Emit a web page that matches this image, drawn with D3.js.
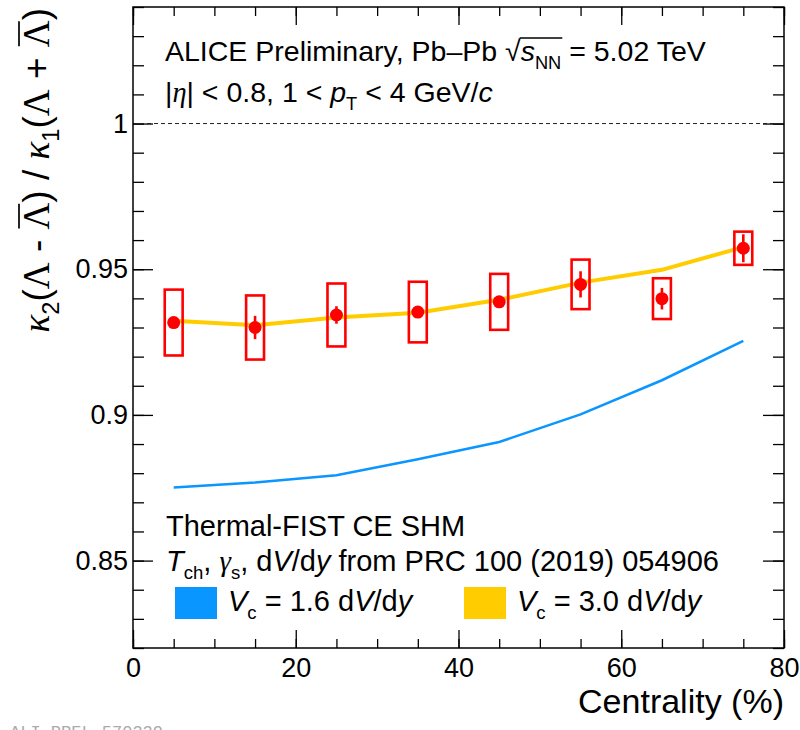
<!DOCTYPE html>
<html lang="en">
<head>
<meta charset="UTF-8">
<title>kappa ratio vs centrality</title>
<script src="https://cdn.jsdelivr.net/npm/d3@7"></script>
<style>
  body { margin: 0; background: #fff; }
  text { white-space: pre; }
</style>
</head>
<body>
<script>
// data
var centrality = [5, 15, 25, 35, 45, 55, 65, 75];
var ratio = [0.9317, 0.9300, 0.9343, 0.9353, 0.9388, 0.9448, 0.9399, 0.9572];
var statErr = [0.001, 0.004, 0.003, 0.002, 0.002, 0.0045, 0.0037, 0.0048];
var sysErr = [0.0113, 0.011, 0.0108, 0.0104, 0.0096, 0.0085, 0.007, 0.0057];
var sysHalfWidth = 1.1; // box half width, in centrality units
var vc16 = [0.8751, 0.8768, 0.8793, 0.8848, 0.8907, 0.9002, 0.9119, 0.9254];
var vc30 = [0.9323, 0.9308, 0.9334, 0.9351, 0.9395, 0.9454, 0.9498, 0.9576];
var xMajor = [0, 20, 40, 60, 80];
var xMinor = d3.range(0, 81, 5);
var yMajor = [0.85, 0.9, 0.95, 1];
var yMinor = d3.range(82, 105).map(function (d) { return d / 100; });

var W = 800, H = 730;
var pLeft = 133, pRight = 784, pTop = 7, pBottom = 648;
var sans = "Liberation Sans, Arial, sans-serif";
var serif = "Liberation Serif, Times New Roman, serif";
var blue = "#0a96ff", yellow = "#ffcc00", red = "#ff0000";

var svg = d3.select("body").append("svg").attr("width", W).attr("height", H);

var x = d3.scaleLinear().domain([0, 80]).range([pLeft, pRight]);
var y = d3.scaleLinear().domain([0.82, 1.04]).range([pBottom, pTop]);

// axes, ticks pointing inside like ROOT
function tickStyle(g) {
    g.select(".domain").remove();
    g.selectAll(".tick line").attr("stroke", "#000").attr("stroke-width", 1.3);
    g.selectAll(".tick text").attr("font-family", sans).attr("font-size", 27).attr("fill", "#000");
}
svg.append("g").attr("transform", "translate(0," + pBottom + ")")
    .call(d3.axisBottom(x).tickValues(xMinor).tickSize(-9).tickFormat("")).call(tickStyle);
svg.append("g").attr("transform", "translate(0," + pBottom + ")")
    .call(d3.axisBottom(x).tickValues(xMajor).tickSize(-18).tickPadding(10).tickFormat(d3.format("d"))).call(tickStyle);
svg.append("g").attr("transform", "translate(0," + pTop + ")")
    .call(d3.axisTop(x).tickValues(xMinor).tickSize(-9).tickFormat("")).call(tickStyle);
svg.append("g").attr("transform", "translate(0," + pTop + ")")
    .call(d3.axisTop(x).tickValues(xMajor).tickSize(-18).tickFormat("")).call(tickStyle);
svg.append("g").attr("transform", "translate(" + pLeft + ",0)")
    .call(d3.axisLeft(y).tickValues(yMinor).tickSize(-11).tickFormat("")).call(tickStyle);
svg.append("g").attr("transform", "translate(" + pLeft + ",0)")
    .call(d3.axisLeft(y).tickValues(yMajor).tickSize(-20).tickPadding(5).tickFormat(function (d) { return String(+d.toFixed(2)); })).call(tickStyle);
svg.append("g").attr("transform", "translate(" + pRight + ",0)")
    .call(d3.axisRight(y).tickValues(yMinor).tickSize(-11).tickFormat("")).call(tickStyle);
svg.append("g").attr("transform", "translate(" + pRight + ",0)")
    .call(d3.axisRight(y).tickValues(yMajor).tickSize(-21).tickFormat("")).call(tickStyle);

// dashed reference at 1
svg.append("line").attr("x1", pLeft).attr("x2", pRight).attr("y1", y(1)).attr("y2", y(1))
    .attr("stroke", "#222").attr("stroke-width", 1).attr("stroke-dasharray", "4,3");

// model curves
var line = d3.line().x(function (d, i) { return x(centrality[i]); }).y(function (d) { return y(d); });
svg.append("path").datum(vc16).attr("d", line).attr("fill", "none").attr("stroke", blue).attr("stroke-width", 2.5);
svg.append("path").datum(vc30).attr("d", line).attr("fill", "none").attr("stroke", yellow).attr("stroke-width", 4);

// data: syst boxes, stat bars, markers
var pts = centrality.map(function (c, i) { return {c: c, v: ratio[i], st: statErr[i], sy: sysErr[i]}; });
svg.selectAll(".sys").data(pts).enter().append("rect")
    .attr("x", function (d) { return x(d.c - sysHalfWidth); })
    .attr("width", function (d) { return x(d.c + sysHalfWidth) - x(d.c - sysHalfWidth); })
    .attr("y", function (d) { return y(d.v + d.sy); })
    .attr("height", function (d) { return y(d.v - d.sy) - y(d.v + d.sy); })
    .attr("fill", "none").attr("stroke", red).attr("stroke-width", 2.6);
svg.selectAll(".stat").data(pts).enter().append("line")
    .attr("x1", function (d) { return x(d.c); }).attr("x2", function (d) { return x(d.c); })
    .attr("y1", function (d) { return y(d.v + d.st); }).attr("y2", function (d) { return y(d.v - d.st); })
    .attr("stroke", red).attr("stroke-width", 2.6);
svg.selectAll(".pt").data(pts).enter().append("circle")
    .attr("cx", function (d) { return x(d.c); }).attr("cy", function (d) { return y(d.v); })
    .attr("r", 6.5).attr("fill", red);

// frame
svg.append("rect").attr("x", pLeft).attr("y", pTop).attr("width", pRight - pLeft).attr("height", pBottom - pTop)
    .attr("fill", "none").attr("stroke", "#000").attr("stroke-width", 1.5);

// rich text: runs laid out one after another
function rich(parent, x0, y0, runs, size) {
    var cx = x0, out = [];
    runs.forEach(function (r) {
        var fs = (r.sub || r.sup) ? size * 0.64 : size;
        var dy = r.sub ? size * 0.28 : (r.sup ? -size * 0.4 : 0);
        var t = parent.append("text").attr("x", cx).attr("y", y0 + dy)
            .attr("font-size", fs).attr("font-family", r.serif ? serif : sans)
            .attr("font-style", r.it ? "italic" : "normal").attr("fill", "#000").text(r.t);
        var w = t.node().getComputedTextLength();
        out.push({x0: cx, x1: cx + w, t: t});
        cx += w + (r.gap || 0);
    });
    return {runs: out, width: cx - x0};
}

// header
var h1 = rich(svg, 165, 61, [
    {t: "ALICE Preliminary, Pb\u2013Pb "}, {t: "\u221a"}, {t: "s", it: true}, {t: "NN", sub: true},
    {t: " = 5.02 TeV"}], 28.5);
svg.append("line").attr("x1", h1.runs[1].x1 - 1).attr("x2", h1.runs[3].x1 + 1)
    .attr("y1", 61 - 23).attr("y2", 61 - 23).attr("stroke", "#000").attr("stroke-width", 1.3);
rich(svg, 165, 102, [
    {t: "|"}, {t: "\u03b7", it: true, serif: true}, {t: "| < 0.8, 1 < "}, {t: "p", it: true},
    {t: "T", sub: true}, {t: " < 4 GeV/"}, {t: "c", it: true}], 28.5);

// legend
rich(svg, 166, 536, [{t: "Thermal-FIST CE SHM"}], 29);
rich(svg, 166, 571, [
    {t: "T", it: true}, {t: "ch", sub: true}, {t: ", "}, {t: "\u03b3", it: true, serif: true},
    {t: "s", sub: true}, {t: ", d"}, {t: "V", it: true}, {t: "/d"}, {t: "y", it: true},
    {t: " from PRC 100 (2019) 054906"}], 29);
var legItems = [{label: "1.6", color: blue, x0: 175}, {label: "3.0", color: yellow, x0: 464}];
legItems.forEach(function (d) {
    svg.append("rect").attr("x", d.x0).attr("y", 587).attr("width", 42).attr("height", 32).attr("fill", d.color);
    rich(svg, d.x0 + 53, 611, [
        {t: "V", it: true}, {t: "c", sub: true}, {t: " = " + d.label + " d"}, {t: "V", it: true},
        {t: "/d"}, {t: "y", it: true}], 29);
});

// axis titles
svg.append("text").attr("x", pRight).attr("y", 713).attr("text-anchor", "end")
    .attr("font-family", sans).attr("font-size", 34).text("Centrality (%)");

var yt = svg.append("g");
var ytr = rich(yt, 0, 0, [
    {t: "\u03ba", it: true, serif: true}, {t: "2", sub: true}, {t: "("}, {t: "\u039b", serif: true},
    {t: " - "}, {t: "\u039b", serif: true}, {t: ") / "}, {t: "\u03ba", it: true, serif: true},
    {t: "1", sub: true}, {t: "("}, {t: "\u039b", serif: true}, {t: " + "}, {t: "\u039b", serif: true},
    {t: ")"}], 37);
[5, 12].forEach(function (k) {
    var r = ytr.runs[k];
    yt.append("line").attr("x1", r.x0 + 1).attr("x2", r.x1 - 1).attr("y1", -30).attr("y2", -30)
        .attr("stroke", "#000").attr("stroke-width", 1.7);
});
yt.attr("transform", "translate(49," + (8 + ytr.width) + ") rotate(-90)");

// preliminary id, cut at the bottom edge like in the original
svg.append("text").attr("x", 10).attr("y", 737).attr("font-family", "Liberation Mono, monospace")
    .attr("font-size", 17).attr("fill", "#aaa").text("ALI-PREL-570339");
</script>
</body>
</html>
